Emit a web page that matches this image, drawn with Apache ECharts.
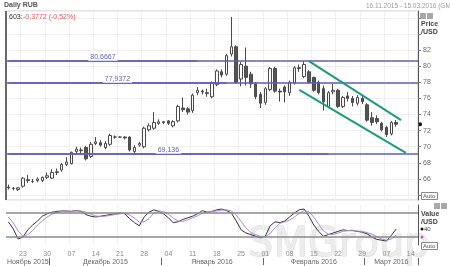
<!DOCTYPE html>
<html><head><meta charset="utf-8">
<script src="https://cdn.jsdelivr.net/npm/echarts@6/dist/echarts.min.js"></script>
<style>html,body{margin:0;padding:0;background:#fff}#c{width:450px;height:266px}</style>
</head><body><div id="c"></div><script>
// ---- data ----
const startDate = '2015-11-18', endDate = '2016-03-15';
const monthNames = {'2015-11':'Ноябрь 2015','2015-12':'Декабрь 2015','2016-01':'Январь 2016','2016-02':'Февраль 2016','2016-03':'Март 2016'};
const openP  = [65.0,64.8,64.7,65.1,65.9,65.7,65.8,65.8,66.2,66.1,66.8,67.1,67.8,67.9,69.4,69.6,69.9,68.8,70.4,70.5,69.9,70.3,71.2,71.2,71.2,71.2,69.4,70.2,70.0,72.1,72.3,72.9,73.1,73.2,72.6,73.2,74.8,74.7,74.5,76.7,76.9,76.7,76.2,77.7,79.3,79.0,81.5,82.4,78.4,80.0,79.0,77.8,76.5,75.5,77.1,79.7,76.9,77.4,76.7,77.9,79.8,78.7,79.3,78.6,78.0,77.2,75.0,76.8,77.0,75.0,76.3,76.0,75.4,76.0,75.2,73.6,73.5,72.9,72.4,71.6,73.0];
const closeP = [64.9,64.85,64.9,66.1,65.8,65.7,66.0,66.2,66.4,66.8,66.9,67.8,68.1,69.3,69.7,69.5,68.5,70.3,70.6,70.2,70.4,71.4,71.2,71.2,71.1,69.6,69.9,70.4,72.3,72.6,73.0,73.1,73.0,72.9,73.1,75.0,74.6,74.3,76.4,77.0,76.8,76.6,77.9,79.4,78.9,81.3,82.4,78.0,80.2,78.6,77.8,76.2,75.4,77.2,79.7,76.9,76.8,76.8,78.0,79.8,79.7,80.2,78.0,77.0,76.7,75.6,76.7,77.0,75.0,76.1,76.0,75.5,76.1,75.6,73.3,73.0,73.1,72.1,71.5,73.0,72.8];
const lowP   = [64.7,64.6,64.5,64.9,65.5,65.5,65.6,65.6,66.0,66.0,66.5,66.9,67.6,67.8,69.1,69.2,68.3,68.6,70.2,70.0,69.7,70.1,71.0,71.1,70.9,69.4,69.0,70.0,69.8,71.9,72.1,72.7,72.8,72.7,72.4,73.0,74.3,74.0,74.2,76.4,76.5,76.2,76.0,77.5,78.6,78.8,81.2,77.8,77.5,77.6,77.3,75.9,74.8,75.2,76.9,76.7,75.6,75.5,76.3,77.7,79.3,78.5,77.8,76.8,76.5,74.5,74.9,76.5,74.8,74.8,75.6,75.0,75.1,75.3,73.1,72.6,72.8,71.9,71.2,71.4,72.5];
const highP  = [65.3,65.0,65.0,66.2,66.5,66.0,66.2,66.3,66.8,67.2,67.3,68.0,68.7,69.4,70.0,69.9,70.1,70.6,71.2,70.8,70.7,71.6,71.4,71.3,71.3,71.3,70.2,70.6,72.5,72.9,74.3,73.4,73.2,73.3,73.3,75.2,76.1,74.9,76.6,77.4,77.1,77.2,78.1,79.6,79.6,81.5,86.1,82.6,80.5,82.3,79.3,78.0,76.8,77.4,79.9,79.9,77.2,77.6,78.2,80.0,80.2,80.6,79.5,78.7,78.2,77.6,76.9,77.8,77.2,76.3,76.8,76.3,76.4,76.4,75.4,74.3,73.9,73.1,72.6,73.2,73.3];
const stochK = [58,40,15,20,38,50,60,72,78,82,84,85,85,84,86,84,76,72,70,72,74,76,78,80,78,66,56,48,70,82,88,84,78,68,56,58,64,68,72,78,86,82,84,88,90,86,80,60,38,30,26,22,18,22,48,58,56,60,70,80,88,90,72,50,34,22,26,30,34,38,36,36,34,32,28,20,14,12,10,24,40];
const stochD = [70,55,35,22,26,36,50,60,70,77,81,84,85,84,85,85,82,77,73,71,72,74,76,78,79,75,67,57,58,66,80,85,84,77,67,60,59,63,68,73,79,82,84,85,87,88,85,75,59,43,31,26,22,20,29,43,54,58,62,70,79,86,83,70,52,35,27,26,30,34,36,37,35,34,31,27,21,15,12,15,25];
const levels = [80.6667, 77.9372, 69.136];
const levelLabels = ['80,6667', '77,9372', '69,136'];
const levelLabelIdx = [39, 45, 66];   // label sits mid-way between index 0 and this index
const channelUpper = [[62, 80.62], [81, 73.31]];
const channelLower = [[60, 77.04], [82, 69.23]];
const oscLevels = [80, 20];

// ---- calendar (weekdays) ----
const dates = [];
(function(){
  let d = new Date(startDate + 'T00:00:00Z'); const e = new Date(endDate + 'T00:00:00Z');
  while (d <= e) { const w = d.getUTCDay(); if (w !== 0 && w !== 6) dates.push(d.toISOString().slice(0,10)); d = new Date(d.getTime() + 86400000); }
})();
const isMonday = i => new Date(dates[i] + 'T00:00:00Z').getUTCDay() === 1;
const monthOf = i => dates[i].slice(0,7);
const monthIdx = {};
dates.forEach((s, i) => { const m = s.slice(0,7); (monthIdx[m] = monthIdx[m] || []).push(i); });
const monthMid = {}, monthFirst = {};
Object.keys(monthIdx).forEach(m => { const a = monthIdx[m]; monthMid[a[Math.floor((a[0] + a[a.length-1]) / 2) - a[0]]] = m; monthFirst[a[0]] = m; });

const candleData = openP.map((o, i) => [o, closeP[i], lowP[i], highP[i]]);
const FONT = 'Liberation Sans';
const lvlColor = '#5f5fb4', chColor = '#1f9a82';

const lvlLines = levels.map(v => ({ yAxis: v, label: { show: false } }));
const lvlLabelLines = levels.map((v, k) => [
  { coord: [0, v], label: { show: true, position: 'middle', formatter: levelLabels[k], color: lvlColor, fontSize: 7, fontFamily: FONT, backgroundColor: '#fff', padding: [0, 2], distance: 0 } },
  { coord: [levelLabelIdx[k], v] }
]);
const chLines = [channelUpper, channelLower].map(c => [
  { coord: c[0], lineStyle: { color: chColor, width: 2, type: 'solid' }, label: { show: false } },
  { coord: c[1] }
]);

const chart = echarts.init(document.getElementById('c'));
const option = {
  animation: false,
  backgroundColor: '#fff',
  textStyle: { fontFamily: FONT },
  grid: [
    { left: 6, right: 32, top: 11, bottom: 66, show: true, borderColor: '#c8c8c8', borderWidth: 1 },
    { left: 6, right: 32, top: 205, bottom: 21 }
  ],
  xAxis: [
    { gridIndex: 0, type: 'category', data: dates, boundaryGap: true,
      axisLine: { show: false }, axisTick: { show: false }, axisLabel: { show: false },
      splitLine: { show: true, interval: (i) => isMonday(i), lineStyle: { color: '#efefef' } } },
    { gridIndex: 1, type: 'category', data: dates, boundaryGap: true,
      axisLine: { show: false }, axisTick: { show: false },
      axisLabel: { interval: (i) => isMonday(i), formatter: (v) => v.slice(8,10), fontSize: 7, color: '#8a8a8a', margin: 6, fontFamily: FONT },
      splitLine: { show: true, interval: (i) => isMonday(i), lineStyle: { color: '#f2f2f2' } } },
    { gridIndex: 1, type: 'category', data: dates, boundaryGap: true, position: 'bottom', offset: 13,
      axisLine: { show: false },
      axisTick: { show: true, interval: (i) => i > 0 && monthFirst[i] !== undefined, length: 7, lineStyle: { color: '#666' } },
      axisLabel: { interval: (i) => monthMid[i] !== undefined, formatter: (v, i) => monthNames[v.slice(0,7)], fontSize: 7, color: '#666', margin: 1, fontFamily: FONT },
      splitLine: { show: false } }
  ],
  yAxis: [
    { gridIndex: 0, type: 'value', position: 'right', min: 63.39, max: 86.84, splitNumber: 11, scale: true,
      axisLine: { show: true, lineStyle: { color: '#555' } },
      axisTick: { show: true, length: 3, lineStyle: { color: '#777' } },
      axisLabel: { showMinLabel: false, showMaxLabel: false, fontSize: 7, color: '#666', margin: 5, fontFamily: FONT,
        formatter: (v) => (v >= 66 && v <= 82 && Math.abs(v - Math.round(v)) < 1e-6) ? String(Math.round(v)) : '' },
      splitLine: { show: true, lineStyle: { color: '#efefef' } } },
    { gridIndex: 1, type: 'value', position: 'right', min: 0, max: 100,
      axisLine: { show: true, lineStyle: { color: '#555' } }, axisTick: { show: false }, axisLabel: { show: false }, splitLine: { show: false } }
  ],
  series: [
    { type: 'candlestick', xAxisIndex: 0, yAxisIndex: 0, data: candleData, barMaxWidth: 3, barWidth: 3,
      itemStyle: { color: '#ffffff', color0: '#555555', borderColor: '#4a4a4a', borderColor0: '#4a4a4a', borderWidth: 1 },
      markLine: { silent: true, symbol: 'none', animation: false,
        lineStyle: { color: lvlColor, width: 1.5, type: 'solid' },
        data: [...lvlLines, ...lvlLabelLines, ...chLines] } },
    { type: 'line', xAxisIndex: 1, yAxisIndex: 1, data: stochK, symbol: 'none', lineStyle: { color: '#333', width: 1 },
      markLine: { silent: true, symbol: 'none', label: { show: false }, lineStyle: { color: '#8a8a8a', width: 1.5, type: 'solid' },
        data: oscLevels.map(v => ({ yAxis: v })) } },
    { type: 'line', xAxisIndex: 1, yAxisIndex: 1, data: stochD, symbol: 'none', lineStyle: { color: '#b488d4', width: 1 } }
  ]
};
chart.setOption(option);

const lastIdx = closeP.length - 1;
const pPrice = chart.convertToPixel({ yAxisIndex: 0 }, closeP[lastIdx]);
const pK = chart.convertToPixel({ yAxisIndex: 1 }, stochK[lastIdx]);
const pD = chart.convertToPixel({ yAxisIndex: 1 }, stochD[lastIdx]);
const t = (x, y, text, fill, size, weight, extra) => Object.assign({ type: 'text', x, y, style: { text, fill, font: (weight || 'normal') + ' ' + (size || 7) + 'px ' + FONT, verticalAlign: 'top' } }, extra || {});
const box = (x, y, w, h) => ({ type: 'rect', shape: { x, y, width: w, height: h }, style: { fill: '#fff', stroke: '#888', lineWidth: 1 } });
chart.setOption({ graphic: [
  { type: 'text', x: 248, y: 246, z: -10, style: { text: 'SMGroup', fill: '#ececec', stroke: '#dcdcdc', lineWidth: 1, font: '40px DejaVu Sans', verticalAlign: 'middle' } },
  t(4, 2, 'Daily RUB', '#555', 7, 'bold'),
  { type: 'line', shape: { x1: 6, y1: 11, x2: 6, y2: 200 }, style: { stroke: '#6a6a6a', lineWidth: 2 } },
  t(9, 14, '603:', '#333', 7),
  t(23, 14, '-0,3772 (-0,52%)', '#e05a5a', 7),
  t(366, 3, '16.11.2015 - 15.03.2016 (GMT)', '#9a9a9a', 6.5),
  { type: 'rect', shape: { x: 420, y: 13, width: 6, height: 6 }, style: { fill: '#a8a8a8' } },
  { type: 'rect', shape: { x: 427, y: 13, width: 6, height: 6 }, style: { fill: '#a8a8a8' } },
  t(421, 21, 'Price', '#444', 7, 'bold'),
  t(421, 29, '/USD', '#444', 7, 'bold'),
  box(421.5, 192.5, 16, 7), t(423, 193, 'Auto', '#555', 6),
  { type: 'rect', shape: { x: 434, y: 203, width: 6, height: 6 }, style: { fill: '#a8a8a8' } },
  { type: 'rect', shape: { x: 441, y: 203, width: 6, height: 6 }, style: { fill: '#a8a8a8' } },
  t(421, 211, 'Value', '#444', 7, 'bold'),
  t(421, 219, '/USD', '#444', 7, 'bold'),
  { type: 'circle', shape: { cx: 420, cy: pPrice, r: 2 }, style: { fill: '#111' } },
  { type: 'circle', shape: { cx: 422, cy: pK, r: 1.5 }, style: { fill: '#111' } },
  t(424, pK - 3, String(stochK[lastIdx]), '#444', 6),
  { type: 'circle', shape: { cx: 422, cy: pD + 2, r: 1.5 }, style: { fill: '#9a6ad0' } },
  box(421.5, 242.5, 16, 7), t(423, 243, 'Auto', '#555', 6)
] });
</script></body></html>
